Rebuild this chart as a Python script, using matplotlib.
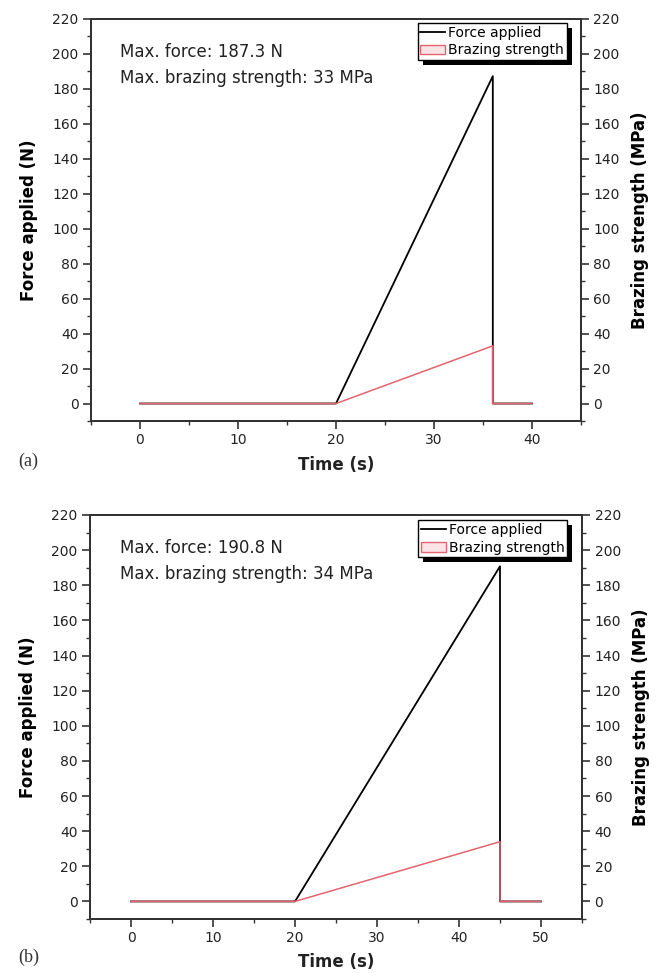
import numpy as np
import matplotlib
matplotlib.use("Agg")
import matplotlib.pyplot as plt
import matplotlib.patheffects as pe
from matplotlib.lines import Line2D
from matplotlib.patches import Patch
from matplotlib.ticker import MultipleLocator

# panel (a)
time_a = [0, 20, 36, 36, 40]
force_a = [0, 0, 187.3, 0, 0]
strength_a = [0, 0, 33, 0, 0]

# panel (b)
time_b = [0, 20, 45, 45, 50]
force_b = [0, 0, 190.8, 0, 0]
strength_b = [0, 0, 34, 0, 0]

notes_a = ["Max. force: 187.3 N", "Max. brazing strength: 33 MPa"]
notes_b = ["Max. force: 190.8 N", "Max. brazing strength: 34 MPa"]

RED = "#e3646f"
SPINE = "#333333"

W, H = 661, 973
fig = plt.figure(figsize=(W / 100, H / 100), dpi=100)


def px_rect(l, t, r, b):
    return [l / W, 1 - b / H, (r - l) / W, (b - t) / H]


def panel(rect, t, f, s, xmax, notes, tag, leg_anchor, tag_y, xlab_y):
    ax = fig.add_axes(rect)
    ax2 = ax.twinx()

    ax.plot(t, f, color="black", lw=1.3, zorder=3)
    ax2.plot(t, s, color=RED, lw=1.1, zorder=4)

    for a in (ax, ax2):
        a.set_ylim(-10, 220)
        a.set_xlim(-5, xmax)
        a.yaxis.set_major_locator(MultipleLocator(20))
        a.yaxis.set_minor_locator(MultipleLocator(10))
        for sp in a.spines.values():
            sp.set_linewidth(1.4)
            sp.set_color(SPINE)
    ax.xaxis.set_major_locator(MultipleLocator(10))
    ax.xaxis.set_minor_locator(MultipleLocator(5))
    for a in (ax, ax2):
        a.tick_params(which="major", direction="out", length=6, width=1.2,
                      labelsize=10, pad=3, colors=SPINE, labelcolor="#222222")
        a.tick_params(which="minor", direction="out", length=3, width=1.0,
                      colors=SPINE)

    ax.set_ylabel("Force applied (N)", fontsize=12, fontweight="bold",
                  labelpad=10)
    ax2.set_ylabel("Brazing strength (MPa)", fontsize=12, fontweight="bold",
                   rotation=90, labelpad=8)

    ax.text(0.06, 0.918, notes[0], transform=ax.transAxes, fontsize=12,
            va="center", ha="left", color="#222222")
    ax.text(0.06, 0.853, notes[1], transform=ax.transAxes, fontsize=12,
            va="center", ha="left", color="#222222")

    handles = [Line2D([0], [0], color="black", lw=1.3),
               Patch(facecolor="#fbe4e6", edgecolor=RED, lw=1.0)]
    leg = ax2.legend(handles, ["Force applied", "Brazing strength"],
                     loc="upper right", bbox_to_anchor=leg_anchor,
                     borderaxespad=0, fancybox=False, shadow=False,
                     framealpha=1.0, fontsize=10, handlelength=1.8,
                     handletextpad=0.2, borderpad=0.2, labelspacing=0.25)
    frame = leg.get_frame()
    frame.set_facecolor("white")
    frame.set_edgecolor("black")
    frame.set_linewidth(1.0)
    frame.set_path_effects([pe.SimplePatchShadow(offset=(3.5, -3.5),
                                                 shadow_rgbFace="black",
                                                 alpha=1.0),
                            pe.Normal()])

    fig.text(336 / W, 1 - xlab_y / H, "Time (s)", fontsize=12,
             fontweight="bold", ha="center", va="center", color="#222222")
    fig.text(18 / W, 1 - tag_y / H, tag, fontsize=13, ha="left",
             va="center", family="Liberation Serif", color="#333333")
    return ax


panel(px_rect(91, 19, 581, 421), time_a, force_a, strength_a, 45,
      notes_a, "(a)", (0.971, 0.99), 461, 465)
panel(px_rect(90, 515, 582, 919), time_b, force_b, strength_b, 55,
      notes_b, "(b)", (0.970, 0.987), 957, 962)

fig.savefig("out.png", dpi=100)
